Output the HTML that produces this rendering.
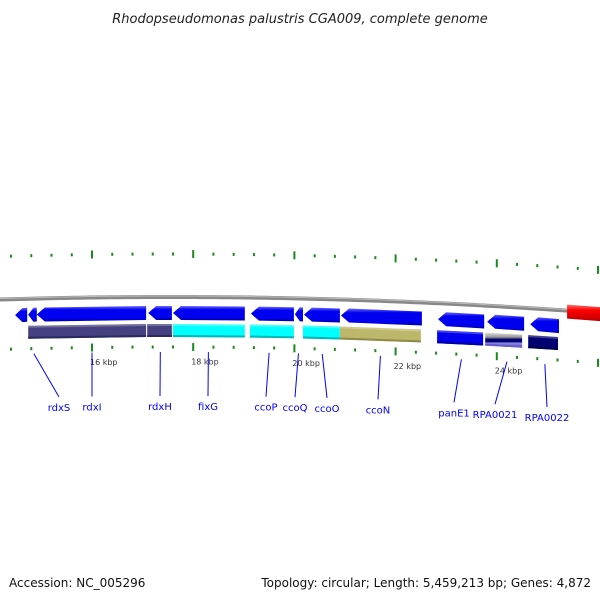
<!DOCTYPE html>
<html><head><meta charset="utf-8"><style>
body{margin:0;background:#fff;}
svg{display:block;font-family:"DejaVu Sans","Liberation Sans",sans-serif;}
</style></head><body>
<svg id="map" width="600" height="600" viewBox="0 0 600 600">
<defs>
<linearGradient id="gBlue" x1="0" y1="0" x2="0" y2="1"><stop offset="0" stop-color="#6a6aff"/><stop offset="0.25" stop-color="#0000f0"/><stop offset="0.8" stop-color="#0000f0"/><stop offset="1" stop-color="#00009a"/></linearGradient>
<linearGradient id="gRed" x1="0" y1="0" x2="0" y2="1"><stop offset="0" stop-color="#ff7070"/><stop offset="0.3" stop-color="#ff0000"/><stop offset="1" stop-color="#b00000"/></linearGradient>
<linearGradient id="gGray" x1="0" y1="0" x2="0" y2="1"><stop offset="0" stop-color="#bbbbbb"/><stop offset="0.5" stop-color="#777"/><stop offset="1" stop-color="#aaa"/></linearGradient>
<linearGradient id="gMix" x1="0" y1="0" x2="0" y2="1"><stop offset="0" stop-color="#dddddd"/><stop offset="0.3" stop-color="#999"/><stop offset="0.45" stop-color="#000066"/><stop offset="0.6" stop-color="#000080"/><stop offset="0.7" stop-color="#8888dd"/><stop offset="1" stop-color="#6a5acd"/></linearGradient>
</defs>
<text x="300" y="23" text-anchor="middle" font-size="13" font-style="italic" fill="#222">Rhodopseudomonas palustris CGA009, complete genome</text>
<g id="layer"></g>
<text x="9" y="587" font-size="12" fill="#111">Accession: NC_005296</text>
<text x="591" y="587" font-size="12" text-anchor="end" fill="#111">Topology: circular; Length: 5,459,213 bp; Genes: 4,872</text>
</svg>
<script>
const geneNames=["","","rdxI","rdxH","fixG","ccoP","ccoQ","ccoO","ccoN","panE1","RPA0021","RPA0022"];
const geneStart=[14.48,14.74,14.91,17.11,17.60,19.14,20.01,20.19,20.92,22.84,23.81,24.66];
const geneEnd=[14.72,14.91,17.07,17.58,19.02,19.99,20.17,20.90,22.52,23.75,24.54,25.23];
const cdsStart=[14.74,17.09,17.60,19.12,20.17,20.90,22.82,23.77,24.62];
const cdsEnd=[17.07,17.58,19.02,19.99,20.90,22.50,23.73,24.50,25.21];
const cdsKind=["purple","purple","cyan","cyan","cyan","khaki","blue","mix","navy"];
const revStart=[25.39];const revEnd=[26.6];
const tickLabels=["16 kbp","18 kbp","20 kbp","22 kbp","24 kbp"];
const tickLabelKbp=[16,18,20,22,24];
const labelNames=["rdxS","rdxI","rdxH","fixG","ccoP","ccoQ","ccoO","ccoN","panE1","RPA0021","RPA0022"];
const labelKbp=[14.85,16.0,17.35,18.3,19.5,20.08,20.55,21.7,23.3,24.2,24.95];
const labelX=[59,92,160,208,266,295,327,378,454,495,547];

const NS="http://www.w3.org/2000/svg";
const layer=document.getElementById('layer');
function xs(k){return 92+(k-16)*50.6;}
function curve(x){return 8.65e-5*(x-170)*(x-170);}
function mk(tag,attrs,name){const e=document.createElementNS(NS,tag);for(const a in attrs)e.setAttribute(a,attrs[a]);


layer.appendChild(e);return e;}
// backbone
let d="";for(let x=-5;x<=605;x+=5){d+=(x<0?"M":"L")+x+","+(297+curve(x)).toFixed(2);}
mk('path',{d:d,stroke:"#888",fill:"none","stroke-width":4},'backbone');
mk('path',{d:d,stroke:"#bbb",fill:"none","stroke-width":1,transform:"translate(0,-1)"},'backbone-highlight');
// ticks
for(let i=-4;i<=30;i++){const k=14+i*0.4;const x=xs(k);if(x<-2||x>602)continue;const major=Math.abs(k/2-Math.round(k/2))<1e-6;
 [[250,"top"],[343,"bottom"]].forEach(([b,n])=>{const y=b+curve(x);const h=major?8:3;
 mk('rect',{x:x-1,y:y+(major?0:2.5),width:2,height:h,fill:"#1a8a1a"},'tick-'+n);});}
// tick labels
tickLabelKbp.forEach((k,i)=>{const x=xs(k);const t=mk('text',{x:x-2,y:365+curve(x)-0.5,"font-size":8,fill:"#333"},'tick-label');t.textContent=tickLabels[i];});
function band(s,e,off,h,tip,fill,name){const x1=xs(s),x2=xs(e);const y1=297+curve(x1)+off,y2=297+curve(x2)+off;let p;
 if(tip){const t=Math.min(8,(x2-x1)*0.6);p=[[x1,y1+h/2],[x1+t,y1],[x2,y2],[x2,y2+h],[x1+t,y1+h]];}
 else p=[[x1,y1],[x2,y2],[x2,y2+h],[x1,y1+h]];
 mk('polygon',{points:p.map(q=>q[0].toFixed(1)+","+q[1].toFixed(1)).join(" "),fill:fill},name);}
geneStart.forEach((s,i)=>band(s,geneEnd[i],9,14,true,"url(#gBlue)",'gene-'+(geneNames[i]||'rdxS')));
revStart.forEach((s,i)=>band(s,revEnd[i],-6,14,false,"url(#gRed)",'reverse-gene'));
const cols={purple:"#45407f",cyan:"#00ffff",khaki:"#bdb76b",blue:"#0000f0",mix:"url(#gMix)",navy:"#000070"};
const dark={purple:"#2b2860",cyan:"#00b8b8",khaki:"#8f8a4a",blue:"#0000a0",mix:"#6a5acd",navy:"#000050"};
cdsStart.forEach((s,i)=>{band(s,cdsEnd[i],27,13,false,cols[cdsKind[i]],'cds-'+i);band(s,cdsEnd[i],38,2,false,dark[cdsKind[i]],'cds-shadow-'+i);
 if(cdsKind[i]!=="mix")band(s,cdsEnd[i],27,2,false,"rgba(255,255,255,0.25)",'cds-highlight-'+i);});
// labels
labelNames.forEach((n,i)=>{const gx=xs(labelKbp[i]);const gy=297+curve(gx)+55;const lx=labelX[i];const ly=402+curve(lx)*0.9;
 mk('line',{x1:gx,y1:gy,x2:lx,y2:ly-6,stroke:"#0000ff","stroke-width":1},'label-line-'+n);
 const t=mk('text',{x:lx,y:ly+8,"font-size":10,fill:"#0000ff","text-anchor":"middle"},'gene-label-'+n);t.textContent=n;});
</script>
</body></html>
